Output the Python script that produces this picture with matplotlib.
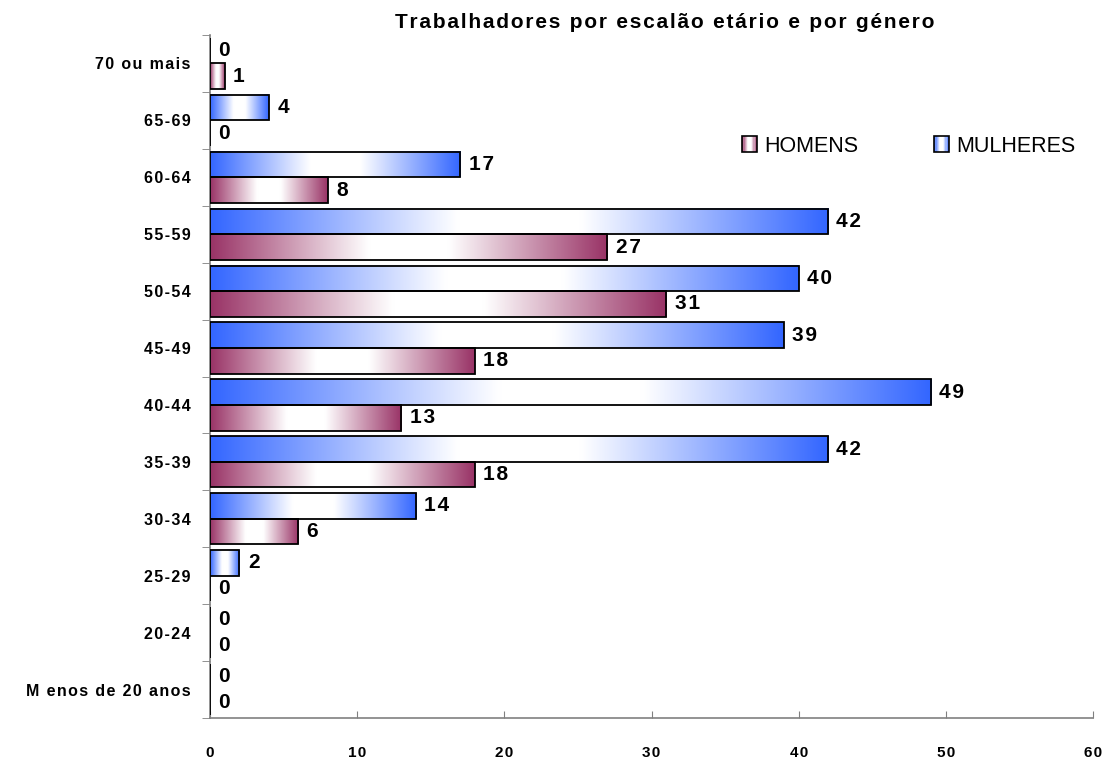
import numpy as np
import matplotlib.pyplot as plt
from matplotlib.colors import LinearSegmentedColormap
from matplotlib.legend_handler import HandlerBase
from matplotlib.patches import Rectangle, Patch

plt.rcParams['font.family'] = ['Liberation Sans', 'DejaVu Sans']

# dados (de baixo para cima)
categorias = ["M enos de 20 anos", "20-24", "25-29", "30-34", "35-39", "40-44",
              "45-49", "50-54", "55-59", "60-64", "65-69", "70 ou mais"]
homens = [0, 0, 0, 6, 18, 13, 18, 31, 27, 8, 0, 1]
mulheres = [0, 0, 2, 14, 42, 49, 39, 40, 42, 17, 4, 0]

cor_h = '#993366'
cor_m = '#3366FF'


def espaco(s, n=1):
    # espacamento entre letras (hair space)
    return ('\u200a' * n).join(s)


def gradiente(cor):
    return LinearSegmentedColormap.from_list(
        'g', [(0.0, cor), (0.40, 'white'), (0.60, 'white'), (1.0, cor)])


class HandlerGradiente(HandlerBase):
    def __init__(self, cor):
        super().__init__()
        self.cor = cor

    def create_artists(self, legend, orig_handle, xdescent, ydescent,
                       width, height, fontsize, trans):
        cm = gradiente(self.cor)
        n = 12
        arts = []
        for i in range(n):
            arts.append(Rectangle((-xdescent + width * i / n, -ydescent), width / n, height,
                                  facecolor=cm((i + 0.5) / n), edgecolor='none', transform=trans))
        arts.append(Rectangle((-xdescent, -ydescent), width, height, facecolor='none',
                              edgecolor='black', lw=1.2, transform=trans))
        return arts


fig = plt.figure(figsize=(11.06, 7.63), dpi=100)
ax = fig.add_axes([210 / 1106, 1 - 718 / 763, (1093 - 210) / 1106, (718 - 35) / 763])

y = np.arange(len(categorias))
h = 0.45
grad = np.linspace(0, 1, 256).reshape(1, -1)


def desenha(valores, deslocamento, cor):
    barras = ax.barh(y + deslocamento, valores, height=h, facecolor='none',
                     edgecolor='black', linewidth=1.3, zorder=3)
    cm = gradiente(cor)
    for rect, v in zip(barras, valores):
        if v > 0:
            x0 = rect.get_x()
            y0 = rect.get_y()
            ax.imshow(grad, cmap=cm, extent=[x0, x0 + rect.get_width(), y0, y0 + rect.get_height()],
                      aspect='auto', zorder=2, interpolation='bicubic')
        ax.annotate(espaco(str(v), 1), xy=(v, rect.get_y() + rect.get_height() / 2), xytext=(6, 0),
                    textcoords='offset points', ha='left', va='center',
                    fontsize=15, fontweight='bold')


desenha(mulheres, h / 2, cor_m)
desenha(homens, -h / 2, cor_h)

ax.set_xlim(0, 60)
ax.set_ylim(-0.5, 11.5)
ax.set_aspect('auto')

ax.set_yticks(y)
ax.set_yticklabels([espaco(c, 1) for c in categorias], fontsize=11.5, fontweight='bold')
ax.set_yticks(np.arange(-0.5, 12, 1), minor=True)
ax.tick_params(axis='y', which='major', length=0, pad=14)
ax.tick_params(axis='y', which='minor', length=6, direction='out', color='#808080')

ax.set_xticks(np.arange(0, 61, 10))
ax.set_xticklabels([espaco(str(v), 1) for v in range(0, 61, 10)], fontsize=11, fontweight='bold')
ax.tick_params(axis='x', direction='in', length=5, pad=20, color='#808080')

for s in ['top', 'right']:
    ax.spines[s].set_visible(False)
for s in ['left', 'bottom']:
    ax.spines[s].set_color('#808080')
    ax.spines[s].set_linewidth(1.2)

ph = Patch(label='HOMENS')
pm = Patch(label='MULHERES')
fig.legend(handles=[ph, pm], handler_map={ph: HandlerGradiente(cor_h), pm: HandlerGradiente(cor_m)},
           loc='center', bbox_to_anchor=(909 / 1106, 1 - 146 / 763), ncol=2, frameon=False,
           fontsize=15.5, handlelength=0.7, handleheight=0.75, handletextpad=0.35, columnspacing=3.5)

fig.text(665 / 1106, 1 - 22 / 763, espaco('Trabalhadores por escalão etário e por género', 1),
         ha='center', va='center', fontsize=15, fontweight='bold')

fig.savefig('out.png', dpi=100)
